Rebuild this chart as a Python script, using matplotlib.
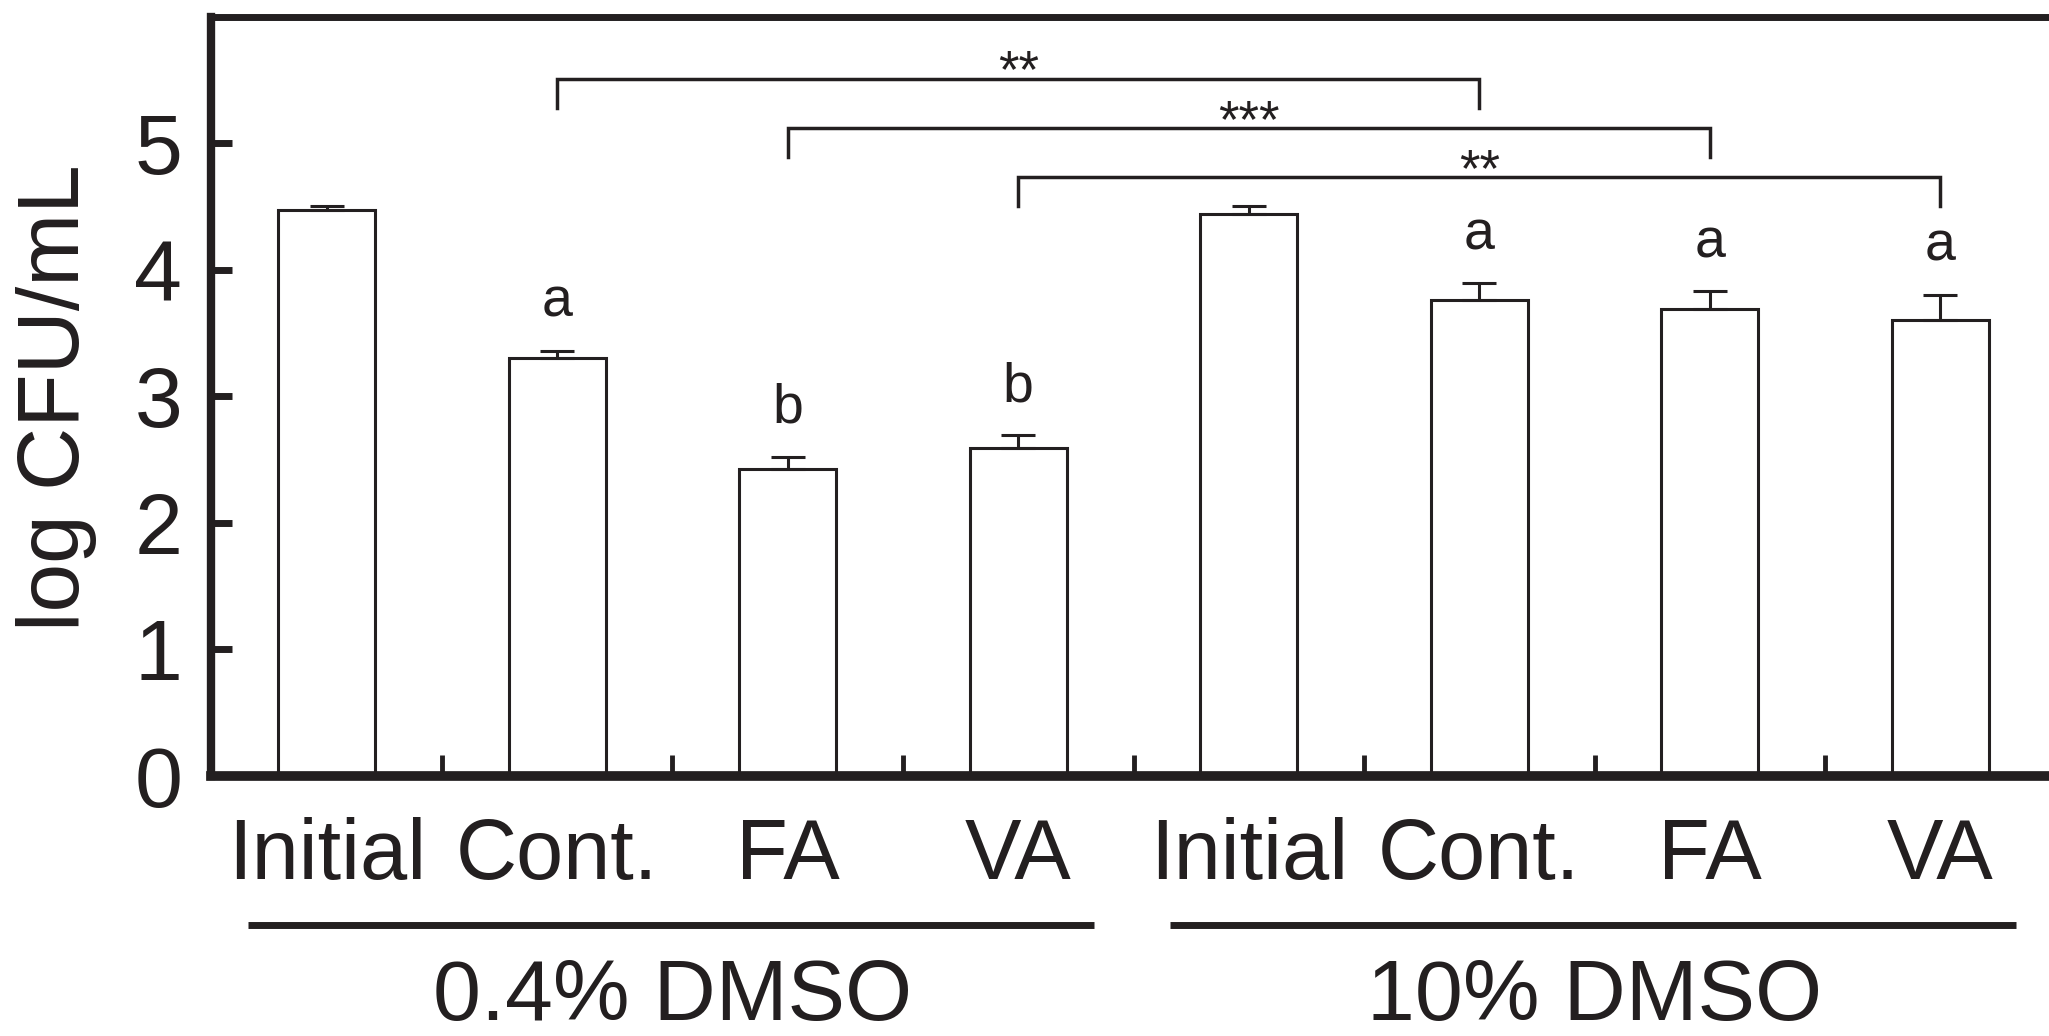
import matplotlib
matplotlib.use("Agg")
import matplotlib.pyplot as plt
import matplotlib.transforms as mtransforms

plt.rcParams['font.family'] = ['Liberation Sans', 'DejaVu Sans']

# log CFU/mL (média) e erro superior de cada tratamento
categorias = ["Initial", "Cont.", "FA", "VA", "Initial", "Cont.", "FA", "VA"]
medias = [4.47, 3.30, 2.42, 2.59, 4.44, 3.76, 3.69, 3.60]
erros = [0.035, 0.06, 0.10, 0.10, 0.06, 0.13, 0.14, 0.20]
letras = ["", "a", "b", "b", "", "a", "a", "a"]
grupos = ["0.4% DMSO", "10% DMSO"]
grupos_idx = [(0, 3), (4, 7)]
# comparações entre as duas concentrações de DMSO (barra 1, barra 2, marca)
comparacoes = [(1, 5, "**"), (2, 6, "***"), (3, 7, "**")]

cor = '#231f20'

fig = plt.figure(figsize=(20.49, 10.36), dpi=100)
ax = fig.add_axes([0.1032, 0.2514, 0.900, 0.7326])

x = list(range(len(medias)))
ax.bar(x, medias, width=0.42, color='white', edgecolor=cor, linewidth=2.2, zorder=2)
ax.errorbar(x, medias, yerr=[[0] * len(erros), erros], fmt='none', ecolor=cor,
            elinewidth=2.2, capsize=12, capthick=2.2, zorder=3)

# letras de significância acima das barras
for i, letra in enumerate(letras):
    if letra:
        ax.text(x[i], medias[i] + erros[i] + 0.38, letra, ha='center', va='center',
                fontsize=40, color=cor)

# colchetes das comparações
y_topo = 5.51
for k, (a, b, marca) in enumerate(comparacoes):
    y = y_topo - 0.39 * k
    ax.plot([a, a, b, b], [y - 0.23, y, y, y - 0.23], color=cor, lw=2.5,
            solid_joinstyle='miter', zorder=4)
    ax.text((a + b) / 2, y + 0.04, marca, ha='center', va='center', fontsize=38,
            color=cor)

ax.set_xlim(-0.5, 7.5)
ax.set_ylim(0, 6)

ax.spines['right'].set_visible(False)
ax.spines['left'].set_linewidth(6)
ax.spines['top'].set_linewidth(5)
ax.spines['bottom'].set_linewidth(7)
for s in ax.spines.values():
    s.set_color(cor)

ax.set_yticks(range(6))
ax.tick_params(axis='y', direction='in', length=15, width=5, color=cor,
               labelsize=62, labelcolor=cor, pad=21)
ax.set_xticks(x)
ax.set_xticklabels(categorias)
ax.tick_params(axis='x', which='major', length=0, labelsize=61, labelcolor=cor, pad=30)
ax.set_xticks([i + 0.5 for i in range(7)], minor=True)
ax.tick_params(axis='x', which='minor', direction='in', length=15, width=3.5, color=cor)

fig.text(0.0275, 0.616, "log CFU/mL", rotation=90, ha='center', va='center',
         fontsize=63, color=cor)

# linhas e nomes dos grupos abaixo dos rótulos
trans = mtransforms.blended_transform_factory(ax.transData, fig.transFigure)
for nome, (i0, i1) in zip(grupos, grupos_idx):
    ax.plot([i0 - 0.34, i1 + 0.33], [0.1071, 0.1071], color=cor, lw=5,
            transform=trans, clip_on=False, solid_capstyle='butt')
    ax.text((i0 + i1) / 2, 0.037, nome, ha='center', va='center', fontsize=62,
            color=cor, transform=trans)

fig.savefig("out.png", dpi=100)
